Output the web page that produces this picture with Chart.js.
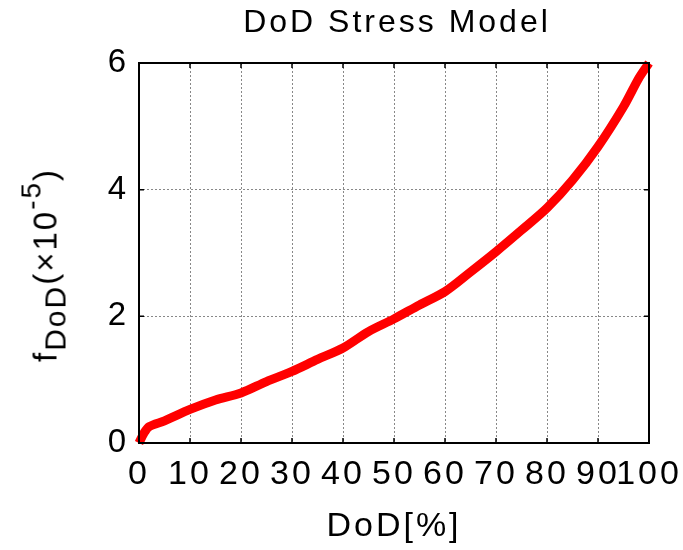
<!DOCTYPE html>
<html>
<head>
<meta charset="utf-8">
<script src="https://cdn.jsdelivr.net/npm/chart.js@4/dist/chart.umd.min.js"></script>
<style>
  body { margin: 0; background: #fff; }
  #wrap { position: relative; width: 683px; height: 550px; }
  #ylabel {
    position: absolute; left: 45px; top: 265px;
    transform: translate(-50%, -50%) rotate(-90deg);
    font-family: 'Liberation Sans', Arial, sans-serif; font-size: 33px;
    letter-spacing: 2px;
    white-space: nowrap; color: #000; line-height: 1;
  }
  #ylabel .sub { font-size: 30px; position: relative; top: 9px; }
  #ylabel .sup { font-size: 28px; position: relative; top: -16px; }
</style>
</head>
<body>
<div id="wrap">
  <canvas id="myChart" width="683" height="550"></canvas>
  <div id="ylabel">f<span class="sub">DoD</span>(×10<span class="sup">-5</span>)</div>
</div>
<script>
// values
const dod = [0, 1, 2, 5, 10, 15, 20, 25, 30, 35, 40, 45, 50, 55, 60, 65, 70, 75, 80, 85, 90, 95, 98, 100];
const fDod = [0, 0.16, 0.26, 0.35, 0.53, 0.68, 0.79, 0.97, 1.13, 1.32, 1.50, 1.76, 1.96, 2.18, 2.39, 2.70, 3.02, 3.36, 3.71, 4.15, 4.68, 5.31, 5.76, 6.0];
const xTicks = [0, 10, 20, 30, 40, 50, 60, 70, 80, 90, 100];
const yTicks = [0, 2, 4, 6];
const chartTitle = 'DoD Stress Model';
const xTitle = 'DoD[%]';

const font = "'Liberation Sans', Arial, sans-serif";

// box around the plot, inward tick marks and the title
const boxPlugin = {
    id: 'box',
    beforeDraw(chart) {
        chart.ctx.letterSpacing = '3px';
    },
    afterDraw(chart) {
        const { ctx, chartArea: a, scales } = chart;
        ctx.save();
        ctx.strokeStyle = '#000';
        ctx.lineWidth = 2;
        ctx.strokeRect(a.left, a.top, a.right - a.left, a.bottom - a.top);
        ctx.lineWidth = 1.5;
        ctx.beginPath();
        xTicks.forEach(v => {
            const x = scales.x.getPixelForValue(v);
            ctx.moveTo(x, a.bottom); ctx.lineTo(x, a.bottom - 5);
            ctx.moveTo(x, a.top); ctx.lineTo(x, a.top + 5);
        });
        yTicks.forEach(v => {
            const y = scales.y.getPixelForValue(v);
            ctx.moveTo(a.left, y); ctx.lineTo(a.left + 5, y);
            ctx.moveTo(a.right, y); ctx.lineTo(a.right - 5, y);
        });
        ctx.stroke();
        ctx.fillStyle = '#000';
        ctx.font = '32px ' + font;
        ctx.letterSpacing = '3px';
        ctx.textAlign = 'center';
        ctx.textBaseline = 'middle';
        ctx.fillText(chartTitle, (a.left + a.right) / 2 + 3, 23);
        ctx.restore();
    }
};

const ctx1 = document.getElementById('myChart').getContext('2d');
new Chart(ctx1, {
    type: 'line',
    data: {
        datasets: [{
            data: dod.map((d, i) => ({ x: d, y: fDod[i] })),
            borderColor: '#ff0000',
            borderWidth: 9,
            pointRadius: 0,
            tension: 0.3,
            clip: false
        }]
    },
    options: {
        responsive: false,
        animation: false,
        layout: { padding: { top: 63, right: 34, left: 0, bottom: 0 } },
        plugins: { legend: { display: false }, tooltip: { enabled: false } },
        scales: {
            x: {
                type: 'linear', min: 0, max: 100,
                afterBuildTicks: s => { s.ticks = xTicks.map(v => ({ value: v })); },
                afterFit: s => { s.height = 107; s.paddingLeft = 0; s.paddingRight = 0; },
                ticks: { autoSkip: false, maxRotation: 0, padding: 11, color: '#000', font: { family: font, size: 34 } },
                grid: { color: '#888', lineWidth: 1, drawTicks: false },
                border: { display: false, dash: [2, 2] },
                title: { display: true, text: xTitle, color: '#000', font: { family: font, size: 34 }, padding: { top: 0, bottom: 3 } }
            },
            y: {
                min: 0, max: 6,
                afterBuildTicks: s => { s.ticks = yTicks.map(v => ({ value: v })); },
                afterFit: s => { s.width = 139; s.paddingTop = 0; s.paddingBottom = 0; },
                ticks: { padding: 10, color: '#000', font: { family: font, size: 33 } },
                grid: { color: '#888', lineWidth: 1, drawTicks: false },
                border: { display: false, dash: [2, 2] }
            }
        }
    },
    plugins: [boxPlugin]
});
</script>
</body>
</html>
